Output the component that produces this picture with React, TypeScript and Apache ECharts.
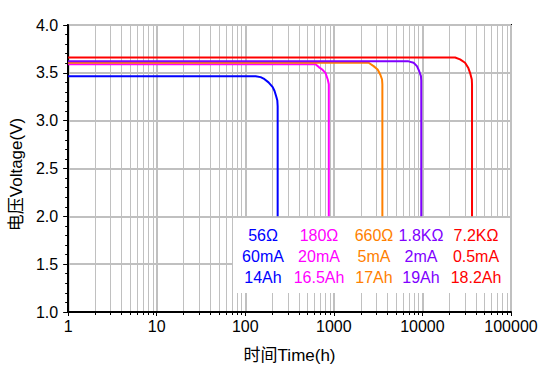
import React, { useEffect, useRef } from "react";
import * as echarts from "echarts";

// ---- data ----
const blueTime = [1, 131, 149, 161, 183, 204, 214, 224, 230, 232, 232];
const blueVolt = [3.465, 3.465, 3.455, 3.44, 3.4, 3.35, 3.31, 3.25, 3.21, 3.15, 2.0];

const magentaTime = [1, 621, 676, 738, 804, 853, 877, 877];
const magentaVolt = [3.59, 3.59, 3.56, 3.535, 3.5, 3.43, 3.38, 2.0];

const orangeTime = [1, 2470, 2810, 3120, 3350, 3500, 3530, 3530];
const orangeVolt = [3.605, 3.605, 3.57, 3.535, 3.48, 3.43, 3.38, 2.0];

const purpleTime = [1, 6980, 7950, 8670, 9200, 9620, 9700, 9700];
const purpleVolt = [3.62, 3.62, 3.605, 3.57, 3.517, 3.465, 3.42, 2.0];

const redTime = [1, 23400, 26600, 30300, 33000, 34500, 36100, 36300, 36300];
const redVolt = [3.66, 3.66, 3.64, 3.605, 3.55, 3.5, 3.43, 3.38, 2.0];

const resistLabels = ["56Ω", "180Ω", "660Ω", "1.8KΩ", "7.2KΩ"];
const currentLabels = ["60mA", "20mA", "5mA", "2mA", "0.5mA"];
const capacityLabels = ["14Ah", "16.5Ah", "17Ah", "19Ah", "18.2Ah"];

const decades = [1, 10, 100, 1000, 10000];
const minorMultipliers = [2, 3, 4, 5, 6, 7, 8, 9];

// ---- styles / layout ----
const colors = ["#0000ff", "#ff00ff", "#ff8000", "#8000ff", "#ff0000"];
const FONT = "'Liberation Sans', Arial, 'Noto Sans CJK SC', sans-serif";
const labelColumnsX = [263, 319, 374, 421, 476];
const labelRowsY = [235, 256, 277];

export default function App() {
  const ref = useRef<HTMLDivElement>(null);

  useEffect(() => {
    if (!ref.current) return;
    const chart = echarts.init(ref.current, undefined, { renderer: "svg" });

    const curves = [
      [blueTime, blueVolt],
      [magentaTime, magentaVolt],
      [orangeTime, orangeVolt],
      [purpleTime, purpleVolt],
      [redTime, redVolt],
    ];

    const minorData: number[][] = [];
    decades.forEach((d) => minorMultipliers.forEach((m) => minorData.push([d * m, 1])));

    const lineSeries = curves.map(([t, v], i) => ({
      type: "line",
      data: t.map((x, k) => [x, v[k]]),
      showSymbol: false,
      symbol: "none",
      lineStyle: { color: colors[i], width: 2 },
      itemStyle: { color: colors[i] },
      z: 3 + i,
    }));

    const texts: any[] = [];
    [resistLabels, currentLabels, capacityLabels].forEach((row, r) => {
      row.forEach((s, c) => {
        texts.push({
          type: "text",
          x: labelColumnsX[c],
          y: labelRowsY[r],
          z: 11,
          style: {
            text: s,
            fill: colors[c],
            font: `16px ${FONT}`,
            align: "center",
            verticalAlign: "middle",
          },
        });
      });
    });

    chart.setOption({
      animation: false,
      grid: {
        left: 68,
        right: 36,
        top: 25,
        bottom: 59,
        show: true,
        borderColor: "#000",
        borderWidth: 2,
        backgroundColor: "transparent",
      },
      xAxis: {
        type: "log",
        logBase: 10,
        min: 1,
        max: 100000,
        name: "时间Time(h)",
        nameLocation: "middle",
        nameGap: 35,
        nameTextStyle: { fontSize: 17, color: "#000", fontFamily: FONT },
        axisLine: { show: true, lineStyle: { color: "#000", width: 2 } },
        axisTick: { show: true, length: 4, lineStyle: { color: "#000", width: 1 } },
        axisLabel: {
          fontSize: 16,
          color: "#000",
          fontFamily: FONT,
          margin: 6,
          formatter: (v: number) => String(Math.round(v)),
        },
        splitLine: { show: true, lineStyle: { color: "#c0c0c0", width: 2 } },
      },
      yAxis: {
        type: "value",
        min: 1,
        max: 4,
        interval: 0.5,
        name: "电压Voltage(V)",
        nameLocation: "middle",
        nameGap: 42,
        nameTextStyle: { fontSize: 17, color: "#000", fontFamily: FONT, padding: [0, 12, 0, 0] },
        axisLine: { show: true, lineStyle: { color: "#000", width: 2 } },
        axisTick: { show: true, length: 5, lineStyle: { color: "#000", width: 1 } },
        minorTick: { show: true, splitNumber: 5, length: 3, lineStyle: { color: "#000", width: 1 } },
        axisLabel: {
          fontSize: 16,
          color: "#000",
          fontFamily: FONT,
          margin: 10,
          formatter: (v: number) => v.toFixed(1),
        },
        splitLine: { show: true, lineStyle: { color: "#c0c0c0", width: 2 } },
      },
      series: [
        {
          type: "custom",
          data: minorData,
          encode: { x: 0, y: 1 },
          clip: false,
          silent: true,
          z: 1,
          renderItem: (params: any, api: any) => {
            const p = api.coord([api.value(0), 1]);
            const top = api.coord([api.value(0), 4])[1];
            const x = Math.round(p[0]) + 0.5;
            const bottom = p[1];
            return {
              type: "group",
              children: [
                {
                  type: "line",
                  shape: { x1: x, y1: top + 1, x2: x, y2: bottom - 1 },
                  style: { stroke: "#c0c0c0", lineWidth: 1 },
                },
                {
                  type: "line",
                  shape: { x1: x, y1: bottom, x2: x, y2: bottom + 3 },
                  style: { stroke: "#000", lineWidth: 1 },
                },
              ],
            };
          },
        },
        ...lineSeries,
      ],
      graphic: [
        {
          type: "rect",
          z: 10,
          shape: { x: 233, y: 218, width: 277, height: 75 },
          style: { fill: "#ffffff" },
        },
        ...texts,
      ],
    });

    return () => chart.dispose();
  }, []);

  return (
    <div
      ref={ref}
      style={{ position: "absolute", left: 0, top: 0, width: 547, height: 371, background: "#fff" }}
    />
  );
}
